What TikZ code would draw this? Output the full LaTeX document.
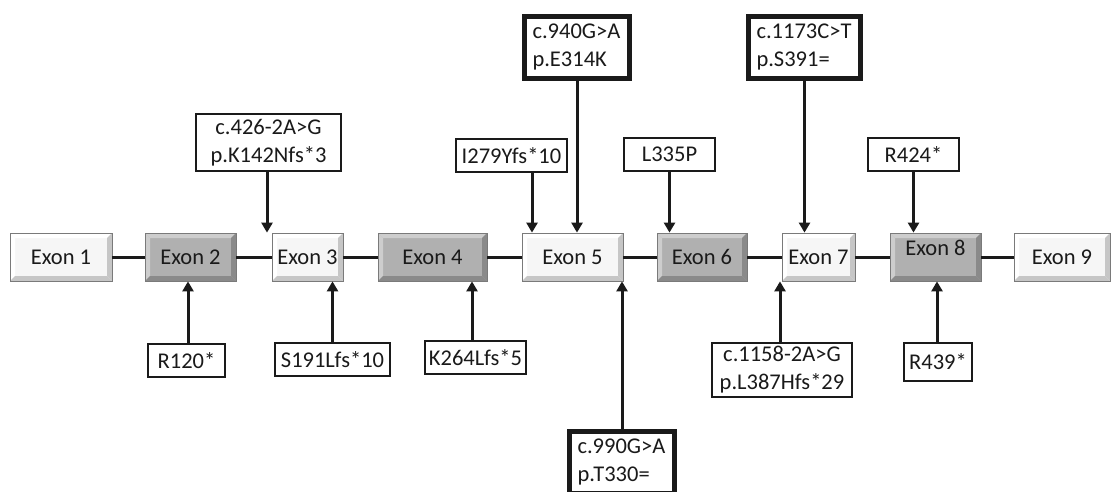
\documentclass[tikz,border=0pt]{standalone}
\usepackage{fontspec}
\setmainfont{Carlito}
\usetikzlibrary{arrows.meta,calc}
\definecolor{lface}{HTML}{F6F6F6}
\definecolor{lhi}{HTML}{FFFFFF}
\definecolor{llo}{HTML}{C6C6C6}
\definecolor{dface}{HTML}{B0B0B0}
\definecolor{dhi}{HTML}{CDCDCD}
\definecolor{dlo}{HTML}{8A8A8A}
\definecolor{exedge}{HTML}{7A7A7A}
\definecolor{ink}{HTML}{1A1A1A}
\newcommand\exonbevel[2]{%
  \path (path picture bounding box.north west) coordinate (bnw)
        (path picture bounding box.south east) coordinate (bse);
  \fill[#1] (bnw) -- (bnw -| bse) -- ++(-5,-5) -- ($(bnw)+(5,-5)$) -- cycle;
  \fill[#1] (bnw) -- ($(bnw)+(5,-5)$) -- ($(bnw |- bse)+(5,5)$) -- (bnw |- bse) -- cycle;
  \fill[#2] (bse) -- (bse |- bnw) -- ++(-5,-5) -- ($(bse)+(-5,5)$) -- cycle;
  \fill[#2] (bse) -- ($(bse)+(-5,5)$) -- ($(bnw |- bse)+(5,5)$) -- (bnw |- bse) -- cycle;
}
\begin{document}
\begin{tikzpicture}[x=1pt,y=1pt,
  font=\fontsize{22.5}{28}\selectfont,
  exonbase/.style={draw=exedge, line width=0.8pt, minimum height=48pt, inner sep=0pt, text=ink},
  lightexon/.style={exonbase, fill=lface, path picture={\exonbevel{lhi}{llo}}},
  darkexon/.style={exonbase, fill=dface, path picture={\exonbevel{dhi}{dlo}}},
  lab/.style={draw=ink, line width=2.6pt, fill=white, inner sep=0pt, align=center, text=ink},
  thicklab/.style={draw=ink, line width=5pt, fill=white, inner xsep=8pt, inner ysep=0pt, align=left, text=ink},
  intron/.style={draw=ink, line width=3pt},
  arr/.style={draw=ink, line width=3pt, -{Triangle[width=11pt,length=10pt]}}
]
\useasboundingbox (0,0) rectangle (1112,-492);
\clip (0,0) rectangle (1112,-492);

% exons
\node[lightexon, minimum width=102pt] (e1) at (61,-257) {Exon 1};
\node[darkexon,  minimum width=91pt]  (e2) at (190.5,-257) {Exon 2};
\node[lightexon, minimum width=71pt]  (e3) at (307.5,-257) {Exon 3};
\node[darkexon,  minimum width=109pt] (e4) at (432.5,-257) {Exon 4};
\node[lightexon, minimum width=101pt] (e5) at (572.5,-257) {Exon 5};
\node[darkexon,  minimum width=90pt]  (e6) at (702,-257) {Exon 6};
\node[lightexon, minimum width=73pt]  (e7) at (818.5,-257) {Exon 7};
\node[darkexon,  minimum width=91pt, text depth=18pt] (e8) at (935.5,-257) {Exon 8};
\node[lightexon, minimum width=96pt]  (e9) at (1062,-257) {Exon 9};

% introns
\foreach \a/\b in {e1/e2,e2/e3,e3/e4,e4/e5,e5/e6,e6/e7,e7/e8,e8/e9}
  \draw[intron] (\a.east) -- (\b.west);

% top labels
\node[lab, minimum width=145pt, minimum height=57pt] (a) at (268.5,-142.5) {c.426-2A>G\\p.K142Nfs*3};
\node[lab, minimum width=111pt, minimum height=33pt] (b) at (511.5,-155.5) {I279Yfs*10};
\node[thicklab, text width=89pt, minimum height=62pt] (c) at (577,-47.5) {c.940G>A\\p.E314K};
\node[lab, minimum width=91pt, minimum height=33pt] (d) at (669.5,-154.5) {L335P};
\node[thicklab, text width=96pt, minimum height=62pt] (e) at (804.5,-47.5) {c.1173C>T\\p.S391=};
\node[lab, minimum width=91pt, minimum height=33pt] (f) at (913.5,-154.5) {R424*};

% bottom labels
\node[lab, minimum width=77pt, minimum height=33pt] (g) at (186.5,-360.5) {R120*};
\node[lab, minimum width=115pt, minimum height=33pt] (h) at (332.5,-359.5) {S191Lfs*10};
\node[lab, minimum width=101pt, minimum height=33pt] (i) at (475.5,-357.5) {K264Lfs*5};
\node[thicklab, text width=89pt, minimum height=62pt] (j) at (622,-462.5) {c.990G>A\\p.T330=};
\node[lab, minimum width=140pt, minimum height=54pt] (k) at (782,-370) {c.1158-2A>G\\p.L387Hfs*29};
\node[lab, minimum width=68pt, minimum height=38pt] (l) at (938,-362) {R439*};

% arrows from top
\draw[arr] ([xshift=-1.5pt]a.south) -- ([xshift=-1.5pt]a.south |- e3.north);
\draw[arr] ([xshift=20.5pt]b.south) -- ([xshift=20.5pt]b.south |- e5.north);
\draw[arr] (c.south) -- (c.south |- e5.north);
\draw[arr] (d.south) -- (d.south |- e6.north);
\draw[arr] (e.south) -- (e.south |- e7.north);
\draw[arr] (f.south) -- (f.south |- e8.north);

% arrows from bottom
\draw[arr] ([xshift=1.5pt]g.north) -- ([xshift=1.5pt]g.north |- e2.south);
\draw[arr] (h.north) -- (h.north |- e3.south);
\draw[arr] ([xshift=-3.5pt]i.north) -- ([xshift=-3.5pt]i.north |- e4.south);
\draw[arr] (j.north) -- (j.north |- e5.south);
\draw[arr] ([xshift=-2pt]k.north) -- ([xshift=-2pt]k.north |- e7.south);
\draw[arr] ([xshift=-1pt]l.north) -- ([xshift=-1pt]l.north |- e8.south);
\end{tikzpicture}
\end{document}
